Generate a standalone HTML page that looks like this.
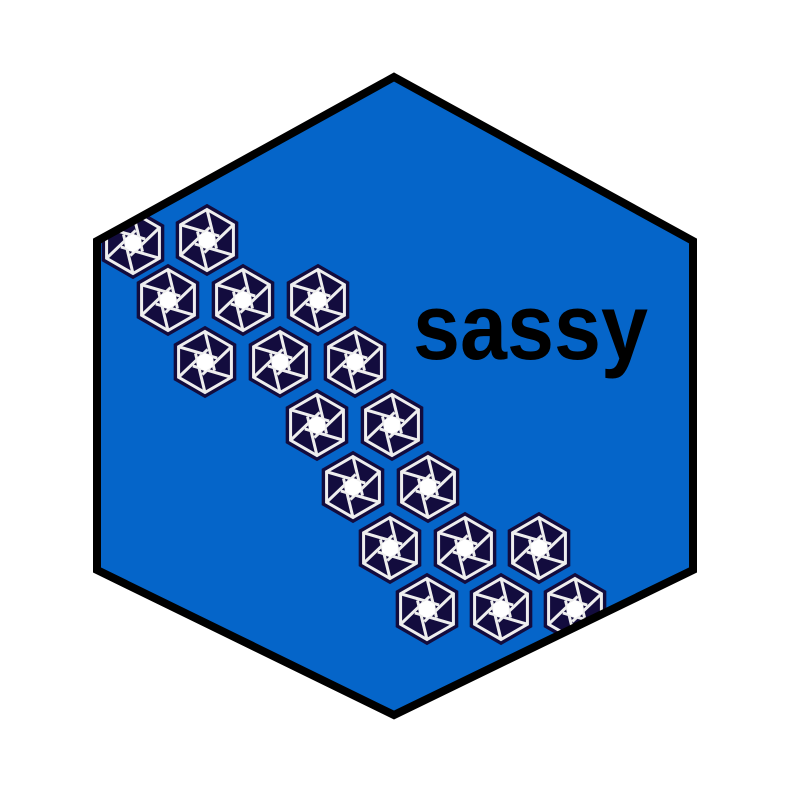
<!DOCTYPE html>
<html><head><meta charset="utf-8"><style>html,body{margin:0;padding:0;background:#fff}svg{display:block}</style></head>
<body>
<svg id="logo" width="794" height="794" viewBox="0 0 794 794">
<defs>
<clipPath id="hexclip"><polygon points="394,77 693,241 693,570 394,715 97,570 97,241"/></clipPath>
</defs>
<polygon points="394,77 693,241 693,570 394,715 97,570 97,241" fill="#0565c9"/>
<g id="icons" clip-path="url(#hexclip)"></g>
<polygon points="394,77 693,241 693,570 394,715 97,570 97,241" fill="none" stroke="#000" stroke-width="8" stroke-linejoin="miter"/>
<text x="413" y="359" font-family="Liberation Sans, sans-serif" font-weight="bold" font-size="94" textLength="235" lengthAdjust="spacingAndGlyphs" fill="#000">sassy</text>
</svg>
<script>
const iconX=[133,207,168,243,318,205,280,355,317,392,353,428,390,465,539,427,501,575];
const iconY=[243,240,300,300,300,362,362,362,425,425,487,487,548,548,548,609,609,609];
const g=document.getElementById('icons');
const NS='http://www.w3.org/2000/svg';
function hexPts(cx,cy,r){const p=[];for(let i=0;i<6;i++){const a=Math.PI/180*(60*i-90);p.push([cx+r*Math.cos(a),cy+r*Math.sin(a)]);}return p;}
for(let k=0;k<iconX.length;k++){
  const cx=iconX[k],cy=iconY[k];
  const grp=document.createElementNS(NS,'g');
  
  
  const outer=document.createElementNS(NS,'polygon');
  outer.setAttribute('points',hexPts(cx,cy,35).map(p=>p.join(',')).join(' '));
  outer.setAttribute('fill','#130c3e');outer.setAttribute('stroke','#130c3e');outer.setAttribute('stroke-width','2');
  grp.appendChild(outer);
  const mid=document.createElementNS(NS,'polygon');
  mid.setAttribute('points',hexPts(cx,cy,30.5).map(p=>p.join(',')).join(' '));
  mid.setAttribute('fill','#130c3e');mid.setAttribute('stroke','#eee');mid.setAttribute('stroke-width','3');
  grp.appendChild(mid);
  const v=hexPts(cx,cy,30.5), inn=hexPts(cx,cy,10);
  for(let i=0;i<6;i++){
    const a=v[i], b=inn[(i+2)%6];
    const dx=b[0]-a[0],dy=b[1]-a[1];
    const ln=document.createElementNS(NS,'line');
    ln.setAttribute('x1',a[0]);ln.setAttribute('y1',a[1]);
    ln.setAttribute('x2',a[0]+dx*1.1);ln.setAttribute('y2',a[1]+dy*1.1);
    ln.setAttribute('stroke','#eee');ln.setAttribute('stroke-width','3');
    grp.appendChild(ln);
  }
  const c=document.createElementNS(NS,'polygon');
  c.setAttribute('points',hexPts(cx,cy,9).map(p=>p.join(',')).join(' '));
  c.setAttribute('fill','#fff');
  grp.appendChild(c);
  g.appendChild(grp);
}
</script>
</body></html>
